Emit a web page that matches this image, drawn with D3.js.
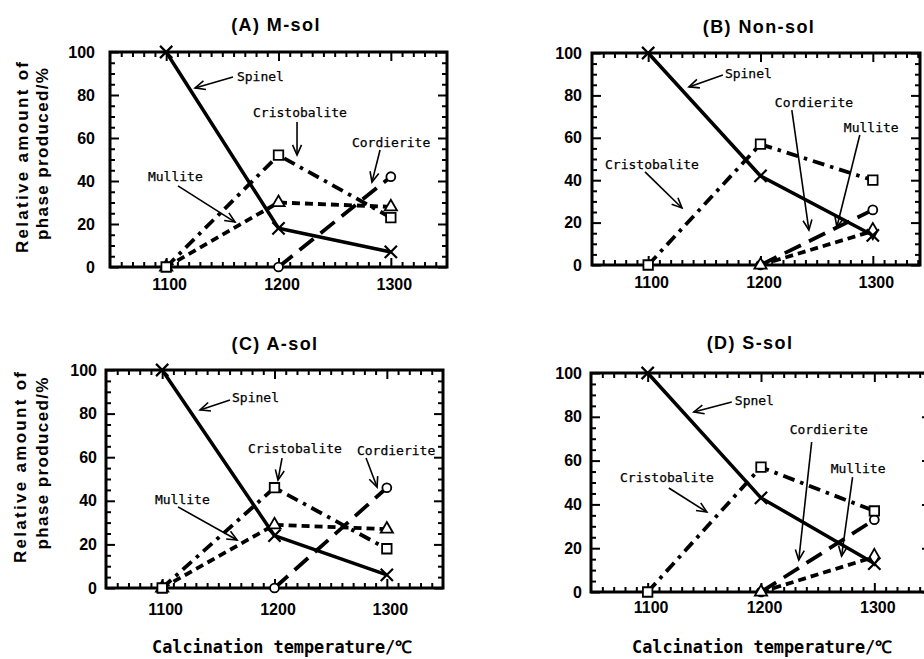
<!DOCTYPE html>
<html><head><meta charset="utf-8">
<script src="https://cdn.jsdelivr.net/npm/d3@7"></script>
<style>body{margin:0;background:#fff}svg{display:block}</style>
</head><body>
<svg id="chart" width="924" height="659"></svg>
<script>
// ---------------- data ----------------
const temperatures = [1100, 1200, 1300];
const panelTitles = ["(A) M-sol", "(B) Non-sol", "(C) A-sol", "(D) S-sol"];
const seriesNames = ["Spinel", "Cristobalite", "Mullite", "Cordierite"];
const spinel       = [[100, 18, 7],   [100, 42, 14],   [100, 24, 6],   [100, 43, 13]];
const cristobalite = [[0, 52, 23],    [0, 57, 40],     [0, 46, 18],    [0, 57, 37]];
const mullite      = [[0, 30, 28],    [null, 0, 16],   [0, 29, 27],    [null, 0, 16]];
const cordierite   = [[null, 0, 42],  [null, 0, 26],   [null, 0, 46],  [null, 0, 33]];
const xTicks = [1100, 1200, 1300];
const yTicks = [0, 20, 40, 60, 80, 100];
const yTitleLines = ["Relative amount of", "phase produced/%"];
const xTitle = "Calcination temperature/\u2103";
const annotationLabels = [
  ["Spinel", "Cristobalite", "Cordierite", "Mullite"],
  ["Spinel", "Cordierite", "Mullite", "Cristobalite"],
  ["Spinel", "Cristobalite", "Cordierite", "Mullite"],
  ["Spnel", "Cordierite", "Mullite", "Cristobalite"]
];
// annotation anchors in data units: [text t, text v, arrow-from t, v, arrow-to t, v]
const annotationAnchors = [
  [[1163, 86.5, 1159.5, 88.4, 1125.7, 83.3], [1177.3, 69.8, 1216.5, 67.4, 1216.5, 52.1],
   [1265.4, 55.8, 1290.4, 54.4, 1283.2, 39.5], [1083.8, 40, 1110.5, 37.7, 1161.3, 20.9]],
  [[1168.3, 88.2, 1166.5, 89.6, 1136.3, 84], [1212.8, 74.5, 1227.9, 73.1, 1243.1, 16.5],
   [1274.2, 62.7, 1288.4, 61.3, 1268, 17.9], [1061.6, 45.3, 1097.2, 43.9, 1130.1, 26.9]],
  [[1162.2, 85.3, 1160.4, 86.2, 1133.7, 81.7], [1176.4, 61.9, 1206.7, 59.6, 1203.1, 49.5],
   [1273.4, 61, 1281.5, 59.6, 1291.3, 46.3], [1093.6, 38.5, 1114.1, 37.2, 1166.7, 22]],
  [[1176.9, 85.4, 1174.2, 86.8, 1140.7, 82.2], [1225.3, 72.1, 1244.7, 68.5, 1233.3, 14.6],
   [1261.5, 54.3, 1280.8, 52.5, 1271.1, 16.4], [1075.6, 50.2, 1118.7, 47.5, 1152.2, 36.5]]
];
const mulliteEndSymbol = ["triangle", "diamond", "triangle", "diamond"];

// ---------------- layout ----------------
const panels = [
  {left:110, top:52,  right:447, bottom:267, xMax:1350, titleX:276, titleY:31,  yLabRight:95,  xLabPad:11.5, yTitle:[[22,157.5],[42,154]], xTitle:null},
  {left:592, top:53,  right:920, bottom:265, xMax:1342, titleX:759, titleY:33,  yLabRight:582, xLabPad:11.5, yTitle:null, xTitle:null},
  {left:106, top:370, right:443, bottom:588, xMax:1350, titleX:275, titleY:350, yLabRight:97,  xLabPad:15.5, yTitle:[[20,467.5],[42,463.5]], xTitle:[282,653]},
  {left:591, top:373, right:931, bottom:592, xMax:1350, titleX:750, titleY:349, yLabRight:582, xLabPad:9.5,  yTitle:null, xTitle:[762,653]}
];
const styles = {
  Spinel:       {dash: null,          width: 3.5},
  Cristobalite: {dash: "12,6,3.5,6",  width: 3.8},
  Mullite:      {dash: "8,5",         width: 3.8},
  Cordierite:   {dash: "18,9",        width: 3.8}
};
const sansBold = "'Liberation Sans', Arial, Helvetica, sans-serif";
const mono = "'DejaVu Sans Mono', 'Liberation Mono', monospace";

const symX = {draw(ctx, size){ const r = Math.sqrt(size)/2; ctx.moveTo(-r,-r); ctx.lineTo(r,r); ctx.moveTo(r,-r); ctx.lineTo(-r,r); }};
const symbolTypes = {
  x: [symX, 150], square: [d3.symbolSquare, 90], triangle: [d3.symbolTriangle, 65],
  circle: [d3.symbolCircle, 62], diamond: [d3.symbolDiamond, 75]
};

const svg = d3.select("#chart");

panels.forEach((p, i) => {
  const g = svg.append("g");
  const x = d3.scaleLinear().domain([1050, p.xMax]).range([p.left, p.right]);
  const y = d3.scaleLinear().domain([0, 100]).range([p.bottom, p.top]);

  // title
  g.append("text").attr("x", p.titleX).attr("y", p.titleY)
    .attr("text-anchor", "middle").attr("font-family", sansBold).attr("font-weight", "bold")
    .attr("font-size", 18).attr("letter-spacing", 1.4).text(panelTitles[i]);

  // frame
  g.append("rect").attr("x", p.left).attr("y", p.top)
    .attr("width", p.right - p.left).attr("height", p.bottom - p.top)
    .attr("fill", "none").attr("stroke", "#000").attr("stroke-width", 3);

  const xMinor = d3.range(1060, p.xMax, 10).filter(v => v % 100 !== 0);
  const yMinor = d3.range(5, 100, 5).filter(v => v % 20 !== 0);

  function styleAxis(sel) {
    sel.select(".domain").remove();
    sel.selectAll(".tick line").attr("stroke", "#000").attr("stroke-width", 2);
    sel.selectAll(".tick text").attr("font-family", sansBold).attr("font-weight", "bold")
      .attr("font-size", 16).attr("fill", "#000");
  }
  // bottom
  g.append("g").attr("transform", `translate(0,${p.bottom})`)
    .call(d3.axisBottom(x).tickValues(xTicks).tickSize(-9).tickPadding(p.xLabPad).tickFormat(d3.format("d")))
    .call(styleAxis).call(s => s.selectAll(".tick text").attr("dx", 3));
  g.append("g").attr("transform", `translate(0,${p.bottom})`)
    .call(d3.axisBottom(x).tickValues(xMinor).tickSize(-5).tickFormat("")).call(styleAxis);
  // top
  g.append("g").attr("transform", `translate(0,${p.top})`)
    .call(d3.axisTop(x).tickValues(xTicks).tickSize(-9).tickFormat("")).call(styleAxis);
  g.append("g").attr("transform", `translate(0,${p.top})`)
    .call(d3.axisTop(x).tickValues(xMinor).tickSize(-5).tickFormat("")).call(styleAxis);
  // left
  g.append("g").attr("transform", `translate(${p.left},0)`)
    .call(d3.axisLeft(y).tickValues(yTicks).tickSize(-9).tickPadding(p.left - p.yLabRight).tickFormat(d3.format("d")))
    .call(styleAxis);
  g.append("g").attr("transform", `translate(${p.left},0)`)
    .call(d3.axisLeft(y).tickValues(yMinor).tickSize(-5).tickFormat("")).call(styleAxis);
  // right
  g.append("g").attr("transform", `translate(${p.right},0)`)
    .call(d3.axisRight(y).tickValues(yTicks).tickSize(-9).tickFormat("")).call(styleAxis);
  g.append("g").attr("transform", `translate(${p.right},0)`)
    .call(d3.axisRight(y).tickValues(yMinor).tickSize(-5).tickFormat("")).call(styleAxis);

  // y title
  if (p.yTitle) {
    yTitleLines.forEach((line, k) => {
      const [cx, cy] = p.yTitle[k];
      g.append("text").attr("transform", `translate(${cx},${cy}) rotate(-90)`)
        .attr("text-anchor", "middle").attr("dominant-baseline", "central")
        .attr("font-family", sansBold).attr("font-weight", "bold").attr("font-size", 17)
        .attr("textLength", k === 0 ? 191 : 172).attr("lengthAdjust", "spacing")
        .text(line);
    });
  }
  // x title
  if (p.xTitle) {
    g.append("text").attr("x", p.xTitle[0]).attr("y", p.xTitle[1])
      .attr("text-anchor", "middle").attr("font-family", mono).attr("font-weight", "bold")
      .attr("font-size", 17).attr("textLength", 260).attr("lengthAdjust", "spacingAndGlyphs")
      .text(xTitle);
  }

  // series
  const seriesData = {
    Spinel: spinel[i], Cristobalite: cristobalite[i], Mullite: mullite[i], Cordierite: cordierite[i]
  };
  const line = d3.line().defined(d => d.v != null).x(d => x(d.t)).y(d => y(d.v));
  seriesNames.forEach(name => {
    const pts = temperatures.map((t, k) => ({t, v: seriesData[name][k]}));
    g.append("path").datum(pts).attr("d", line)
      .attr("fill", "none").attr("stroke", "#000")
      .attr("stroke-width", styles[name].width)
      .attr("stroke-dasharray", styles[name].dash)
      .attr("stroke-linejoin", "round");
  });
  const symFor = (name, k) => {
    if (name === "Spinel") return "x";
    if (name === "Cristobalite") return "square";
    if (name === "Cordierite") return "circle";
    return k === 2 ? mulliteEndSymbol[i] : "triangle";
  };
  ["Cordierite", "Mullite", "Cristobalite", "Spinel"].forEach(name => {
    temperatures.forEach((t, k) => {
      const v = seriesData[name][k];
      if (v == null) return;
      const [type, size] = symbolTypes[symFor(name, k)];
      g.append("path").attr("d", d3.symbol().type(type).size(size)())
        .attr("transform", `translate(${x(t)},${y(v)})`)
        .attr("fill", name === "Spinel" ? "none" : "#fff")
        .attr("stroke", "#000").attr("stroke-width", name === "Spinel" ? 2.2 : 1.8);
    });
  });

  // annotations
  annotationLabels[i].forEach((label, k) => {
    const a = annotationAnchors[i][k];
    g.append("text").attr("x", x(a[0])).attr("y", y(a[1]))
      .attr("font-family", mono).attr("font-size", 13).attr("fill", "#000")
      .attr("stroke", "#000").attr("stroke-width", 0.25)
      .text(label);
    const x1 = x(a[2]), y1 = y(a[3]), x2 = x(a[4]), y2 = y(a[5]);
    g.append("line").attr("x1", x1).attr("y1", y1).attr("x2", x2).attr("y2", y2)
      .attr("stroke", "#000").attr("stroke-width", 1.6);
    const ang = Math.atan2(y1 - y2, x1 - x2);
    const L = 11, spread = 0.42;
    const head = d3.path();
    head.moveTo(x2 + L * Math.cos(ang - spread), y2 + L * Math.sin(ang - spread));
    head.lineTo(x2, y2);
    head.lineTo(x2 + L * Math.cos(ang + spread), y2 + L * Math.sin(ang + spread));
    g.append("path").attr("d", head.toString()).attr("fill", "none")
      .attr("stroke", "#000").attr("stroke-width", 1.6);
  });
});
</script>
</body></html>
